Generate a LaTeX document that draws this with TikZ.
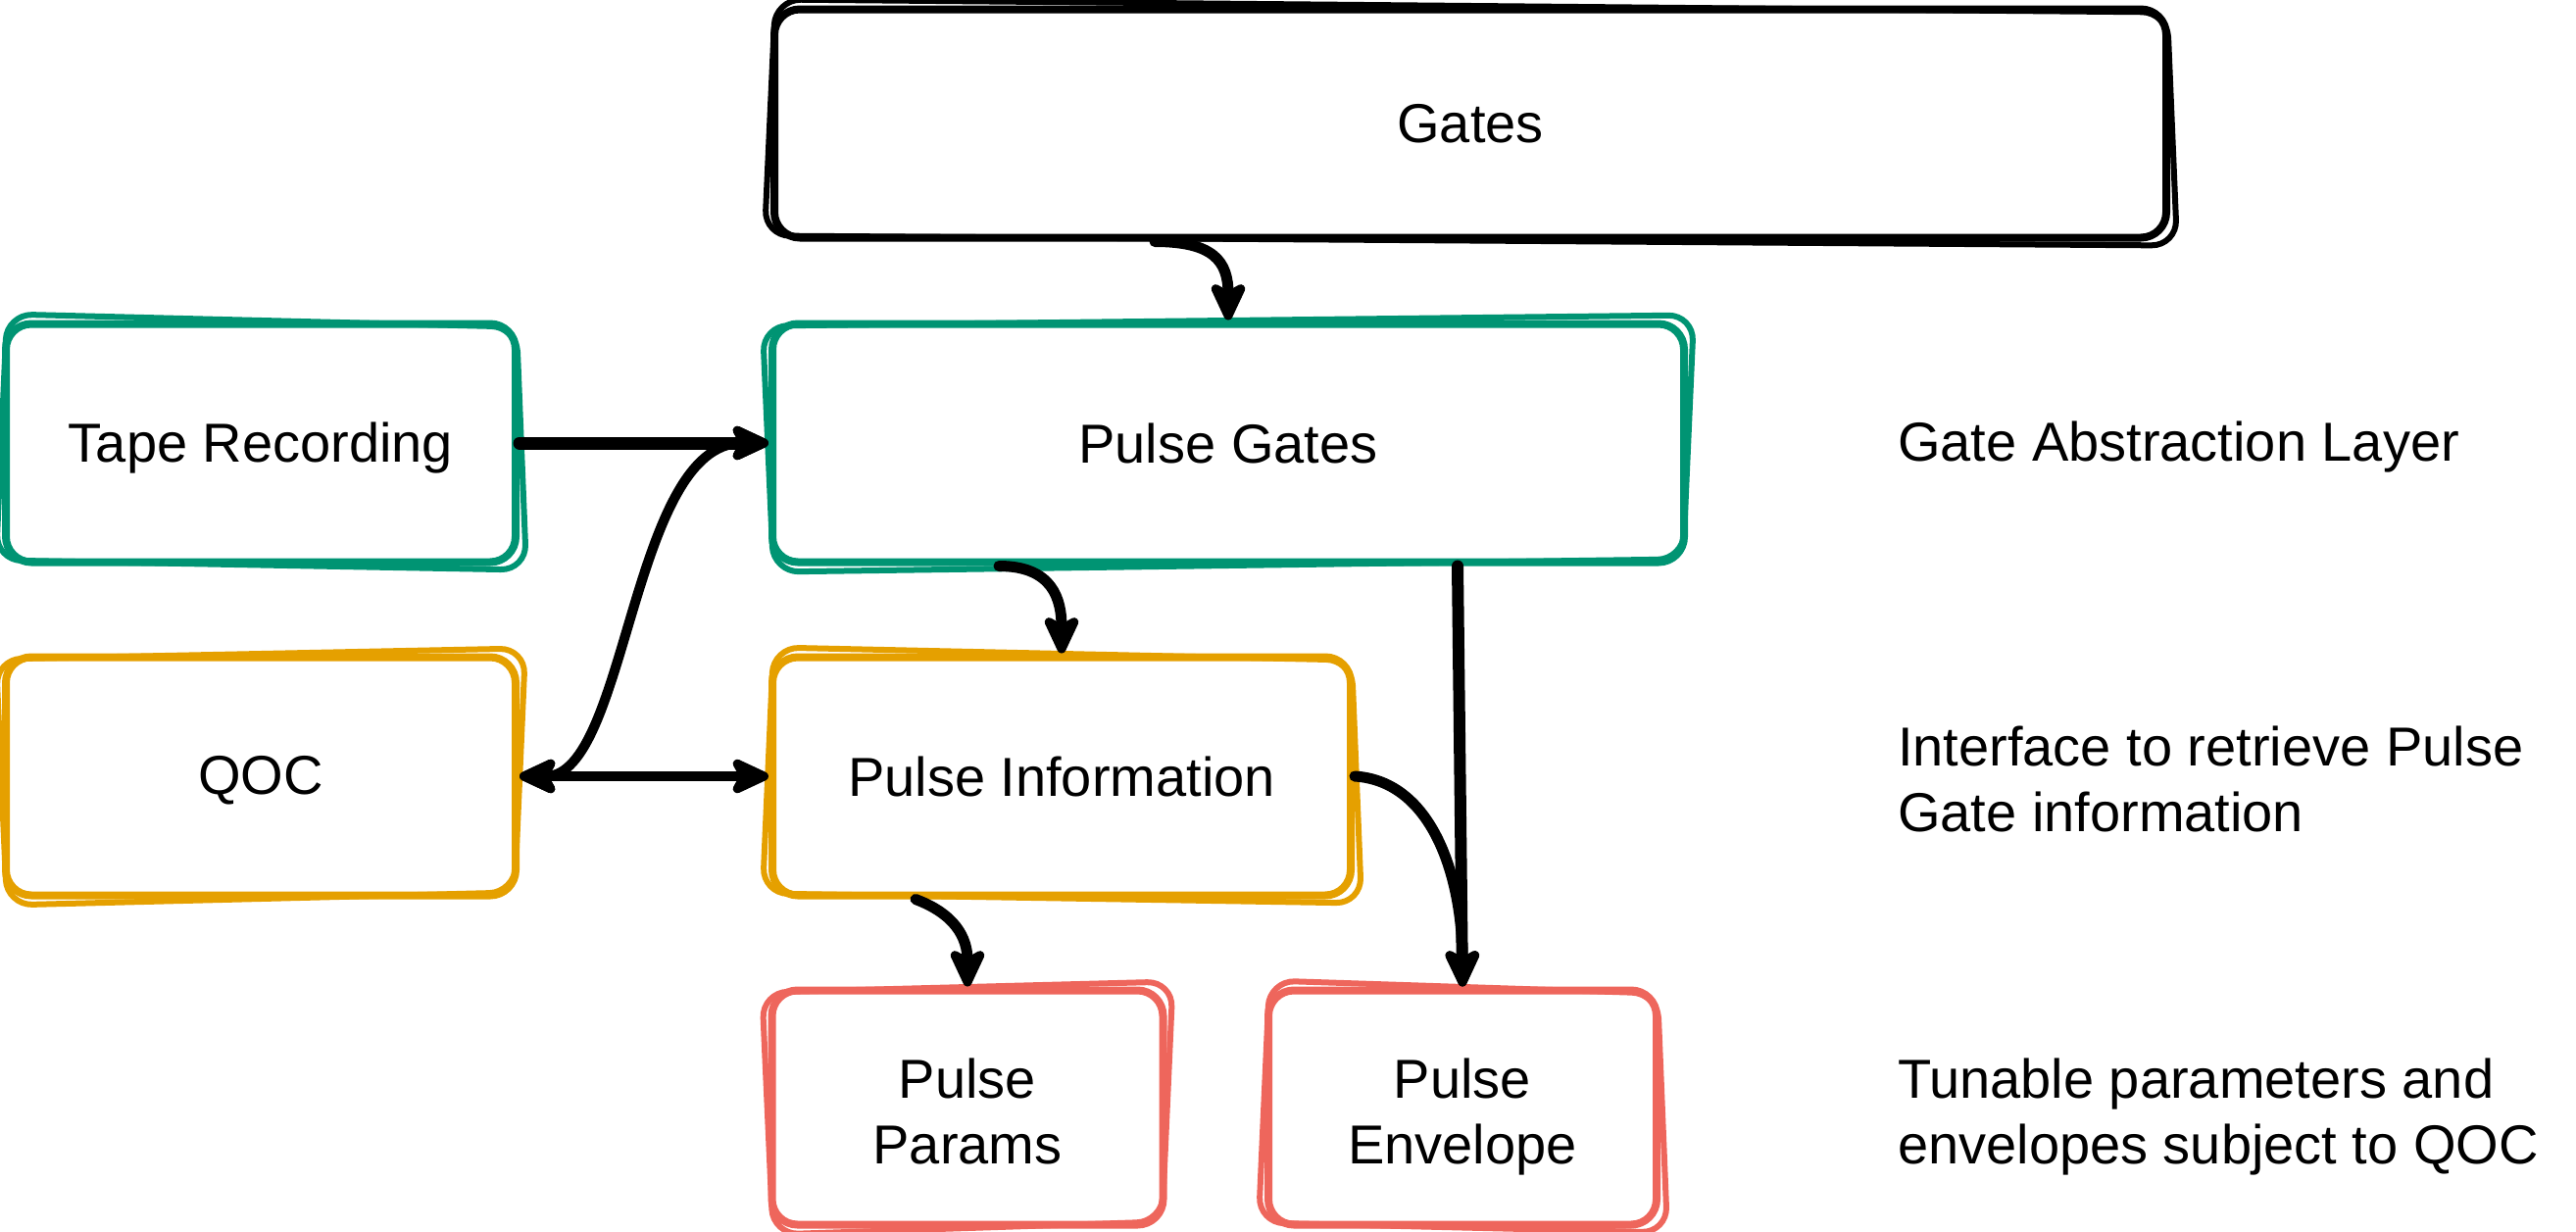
\documentclass[tikz,border=0pt]{standalone}
\usepackage{fontspec}
\setmainfont{Liberation Sans}
\usetikzlibrary{arrows.meta}
\definecolor{cteal}{HTML}{009473}
\definecolor{corange}{HTML}{E5A000}
\definecolor{cred}{HTML}{EE665C}
\newcommand{\roughA}[2]{\draw[sk,#2] ([xshift=5pt,yshift=6pt]#1.north west) -- ([xshift=-3pt,yshift=-7pt]#1.north east) -- ([xshift=7pt,yshift=-4pt]#1.south east) -- ([xshift=-6pt,yshift=6pt]#1.south west) -- cycle;}
\newcommand{\roughB}[2]{\draw[sk,#2] ([xshift=-6pt,yshift=-6pt]#1.north west) -- ([xshift=6pt,yshift=5pt]#1.north east) -- ([xshift=-5pt,yshift=7pt]#1.south east) -- ([xshift=5pt,yshift=-6pt]#1.south west) -- cycle;}
\newcommand{\twolines}[2]{\raisebox{-11pt}[\height][\depth]{\begin{tabular}{@{}c@{}}#1\\#2\end{tabular}}}
\begin{document}
\begin{tikzpicture}[x=1pt,y=-1pt,
  box/.style={draw,line width=8pt,rounded corners=26pt,inner sep=0pt,align=center,font=\fontsize{56}{67}\selectfont},
  sk/.style={line width=6pt,rounded corners=26pt,line join=round},
  lbl/.style={anchor=west,align=left,inner sep=0pt,font=\fontsize{56}{67}\selectfont},
  arr/.style={line width=11pt,line cap=round,-{Stealth[length=48pt,width=44pt,inset=12pt,round]}},
  darr/.style={line width=10pt,{Stealth[length=48pt,width=44pt,inset=12pt,round]}-{Stealth[length=48pt,width=44pt,inset=12pt,round]}}]
\useasboundingbox (0,0) rectangle (2628,1256);
% nodes
\node[box,draw=black,minimum width=1420pt,minimum height=233pt] (gates) at (1500,126) {Gates};
\node[box,draw=cteal,minimum width=930pt,minimum height=243pt] (pg) at (1253,452) {Pulse Gates};
\node[box,draw=cteal,minimum width=520pt,minimum height=243pt] (tr) at (266,452) {\raisebox{-5pt}[\height][\depth]{Tape Recording}};
\node[box,draw=corange,minimum width=520pt,minimum height=243pt] (qoc) at (266,792) {\raisebox{-4pt}[\height][\depth]{QOC}};
\node[box,draw=corange,minimum width=590pt,minimum height=243pt] (pi) at (1083,792) {Pulse Information};
\node[box,draw=cred,minimum width=399pt,minimum height=239pt] (pp) at (987,1130) {\twolines{Pulse}{Params}};
\node[box,draw=cred,minimum width=396pt,minimum height=239pt] (pe) at (1492,1130) {\twolines{Pulse}{Envelope}};
% sketch strokes
\roughA{gates}{black}
\roughB{pg}{cteal}
\roughA{tr}{cteal}
\roughB{qoc}{corange}
\roughA{pi}{corange}
\roughB{pp}{cred}
\roughA{pe}{cred}
% labels
\node[lbl] (l1) at (1936,456) {Gate Abstraction Layer};
\node[lbl] (l2) at (1936,795) {Interface to retrieve Pulse\\Gate information};
\node[lbl] (l3) at (1936,1140) {Tunable parameters and\\envelopes subject to QOC};
% connectors
\draw[arr] ([xshift=-322pt]gates.south) .. controls +(60,0) and +(0,-60) .. (pg.north);
\draw[arr] ([xshift=-234pt]pg.south) .. controls +(55,0) and +(0,-55) .. (pi.north);
\draw[arr,line width=12pt] ([xshift=234pt]pg.south) -- (pe.north);
\draw[arr] (pi.east) .. controls +(80,5) and +(0,-110) .. (pe.north);
\draw[arr] ([xshift=-149pt]pi.south) .. controls +(40,15) and +(0,-50) .. (pp.north);
\draw[arr,line width=13pt] (tr.east) -- (pg.west);
\draw[darr] (qoc.east) -- (pi.west);
\draw[darr] (qoc.east) .. controls +(110,0) and +(-140,0) .. (pg.west);
\end{tikzpicture}
\end{document}
